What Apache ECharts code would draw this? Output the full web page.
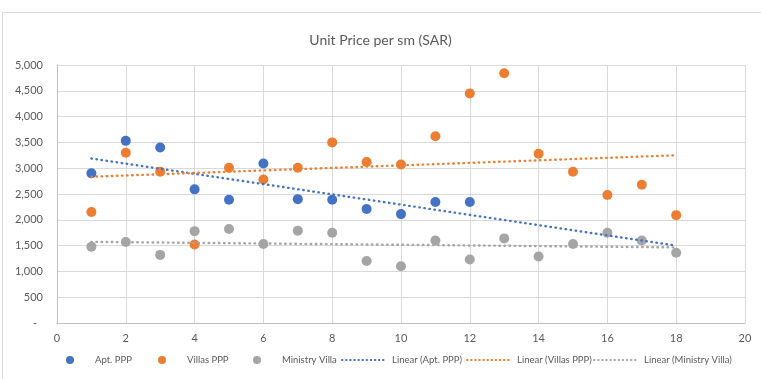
<!DOCTYPE html>
<html>
<head>
<meta charset="utf-8">
<script src="https://cdn.jsdelivr.net/npm/echarts@6/dist/echarts.min.js"></script>
<style>
  html, body { margin: 0; padding: 0; background: #fff; }
  #frame { position: absolute; left: 2px; top: 12px; width: 800px; height: 400px;
           border-left: 1px solid #d9d9d9; border-top: 1px solid #d9d9d9; }
  #chart { position: absolute; left: 0; top: 0; width: 761px; height: 379px; }
</style>
</head>
<body>
<div id="frame"></div>
<div id="chart"></div>
<script>
// Unit price per square metre (SAR) by project index
const xValues = [1, 2, 3, 4, 5, 6, 7, 8, 9, 10, 11, 12, 13, 14, 15, 16, 17, 18];
const aptPPP = [2900, 3530, 3400, 2590, 2390, 3090, 2400, 2390, 2210, 2110, 2345, 2345,
                null, null, null, null, null, null];
const villasPPP = [2150, 3300, 2930, 1520, 3010, 2780, 3010, 3500, 3120, 3070, 3620, 4450,
                   4840, 3280, 2930, 2480, 2680, 2090];
const ministryVilla = [1480, 1570, 1320, 1780, 1820, 1530, 1790, 1750, 1200, 1100, 1600, 1230,
                       1640, 1290, 1530, 1750, 1600, 1360];

const seriesNames = ['Apt. PPP', 'Villas PPP', 'Ministry Villa'];
const seriesColors = ['#4472C4', '#ED7D31', '#A5A5A5'];
const seriesValues = [aptPPP, villasPPP, ministryVilla];

// Least-squares line through the available points, spanning the full x range
function linearTrend(xs, ys) {
  const pts = xs.map((x, i) => [x, ys[i]]).filter(p => p[1] !== null);
  const n = pts.length;
  const mx = pts.reduce((s, p) => s + p[0], 0) / n;
  const my = pts.reduce((s, p) => s + p[1], 0) / n;
  let sxy = 0, sxx = 0;
  pts.forEach(p => { sxy += (p[0] - mx) * (p[1] - my); sxx += (p[0] - mx) * (p[0] - mx); });
  const b = sxy / sxx, a = my - b * mx;
  const x0 = xs[0], x1 = xs[xs.length - 1];
  return [[x0, a + b * x0], [x1, a + b * x1]];
}

const textColor = '#595959';
const font = 'Lato, "Open Sans", sans-serif';
const dotted = [0.5, 4.6];

const scatterSeries = seriesNames.map((name, i) => ({
  name: name,
  type: 'scatter',
  symbol: 'circle',
  symbolSize: 10,
  itemStyle: { color: seriesColors[i], opacity: 1 },
  data: xValues.map((x, j) => [x, seriesValues[i][j]]).filter(p => p[1] !== null),
  z: 3
}));

const trendSeries = seriesNames.map((name, i) => ({
  name: 'Linear (' + name + ')',
  type: 'line',
  showSymbol: false,
  symbol: 'none',
  lineStyle: { color: seriesColors[i], width: 2.4, type: dotted, cap: 'round' },
  itemStyle: { color: seriesColors[i] },
  data: linearTrend(xValues, seriesValues[i]),
  silent: true,
  z: 4
}));

// One legend block per entry so each sits at its own spot along the bottom row
const legendTextStyle = { color: textColor, fontSize: 9.5, fontFamily: font };
const markerLegendLeft = [66, 158, 253];
const lineLegendLeft = [341, 466, 593];
const legends = [];
seriesNames.forEach((name, i) => {
  legends.push({
    data: [{ name: name, icon: 'circle' }],
    left: markerLegendLeft[i], top: 355,
    itemWidth: 8, itemHeight: 8, padding: 0,
    selectedMode: false,
    textStyle: Object.assign({ padding: [0, 0, 0, 16] }, legendTextStyle)
  });
  legends.push({
    data: [{ name: 'Linear (' + name + ')',
             itemStyle: { opacity: 0 },
             lineStyle: { color: seriesColors[i], width: 2, type: [0.5, 3.6], cap: 'round' } }],
    left: lineLegendLeft[i], top: 355,
    itemWidth: 42, itemHeight: 8, padding: 0,
    selectedMode: false,
    textStyle: Object.assign({ padding: [0, 0, 0, 3] }, legendTextStyle)
  });
});

const chart = echarts.init(document.getElementById('chart'), null, { renderer: 'canvas' });
chart.setOption({
  animation: false,
  backgroundColor: 'transparent',
  title: {
    text: 'Unit Price per sm (SAR)',
    left: 'center',
    top: 28,
    textStyle: { color: textColor, fontSize: 14, fontWeight: 'normal', fontFamily: font }
  },
  legend: legends,
  grid: { left: 57, right: 16, top: 65, bottom: 56, containLabel: false },
  xAxis: {
    type: 'value',
    min: 0, max: 20, interval: 2,
    axisLine: { show: true, lineStyle: { color: '#BFBFBF', width: 1 } },
    axisTick: { show: false },
    splitLine: { show: true, lineStyle: { color: '#D9D9D9', width: 1 } },
    axisLabel: { color: textColor, fontSize: 11, fontFamily: font, margin: 10 }
  },
  yAxis: {
    type: 'value',
    min: 0, max: 5000, interval: 500,
    axisLine: { show: true, lineStyle: { color: '#BFBFBF', width: 1 } },
    axisTick: { show: false },
    splitLine: { show: true, lineStyle: { color: '#D9D9D9', width: 1 } },
    axisLabel: {
      color: textColor, fontSize: 11, fontFamily: font, margin: 14,
      formatter: v => v === 0 ? '{d|-}' : v.toLocaleString('en-US'),
      rich: { d: { color: textColor, fontSize: 11, fontFamily: font, padding: [0, 6, 0, 0] } }
    }
  },
  series: scatterSeries.concat(trendSeries)
});
</script>
</body>
</html>
